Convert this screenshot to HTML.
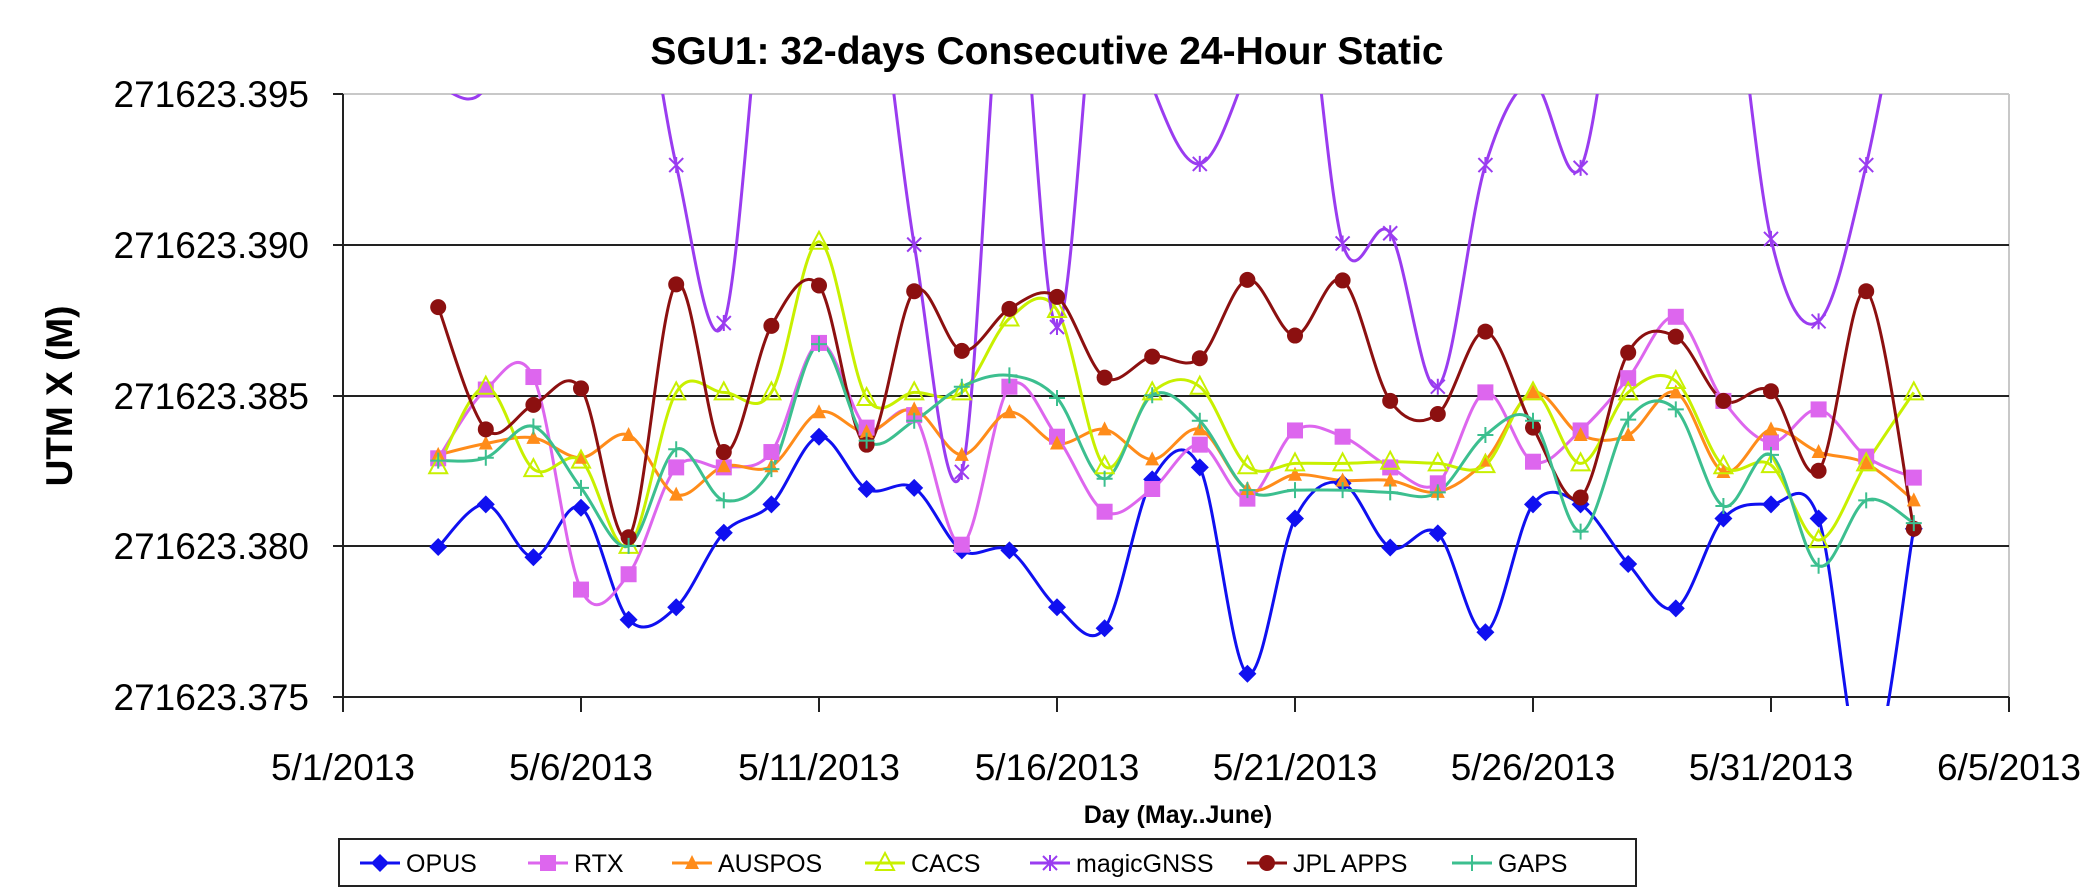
<!DOCTYPE html>
<html><head><meta charset="utf-8">
<style>
html,body{margin:0;padding:0;background:#fff;}
body{width:2096px;height:889px;overflow:hidden;font-family:"Liberation Sans",Arial,sans-serif;}
</style></head>
<body>
<svg id="c" width="2096" height="889" xmlns="http://www.w3.org/2000/svg" font-family="Liberation Sans, Arial, sans-serif">
<defs><clipPath id="pc"><rect x="343" y="94" width="1666" height="612"/></clipPath></defs>
<text x="1047" y="64" text-anchor="middle" font-size="39" font-weight="bold">SGU1: 32-days Consecutive 24-Hour Static</text>
<line x1="343" y1="94" x2="2009" y2="94" stroke="#c8c8c8" stroke-width="2"/>
<line x1="2009" y1="94" x2="2009" y2="697" stroke="#c8c8c8" stroke-width="2"/>
<line x1="343" y1="245" x2="2009" y2="245" stroke="#222" stroke-width="2"/>
<line x1="343" y1="396" x2="2009" y2="396" stroke="#222" stroke-width="2"/>
<line x1="343" y1="546" x2="2009" y2="546" stroke="#222" stroke-width="2"/>
<line x1="343" y1="697" x2="2009" y2="697" stroke="#222" stroke-width="2"/>
<line x1="343" y1="94" x2="343" y2="710" stroke="#222" stroke-width="2"/>
<g stroke="#222" stroke-width="2">
<line x1="333" y1="94" x2="343" y2="94"/><line x1="333" y1="245" x2="343" y2="245"/>
<line x1="333" y1="396" x2="343" y2="396"/><line x1="333" y1="546" x2="343" y2="546"/>
<line x1="333" y1="697" x2="343" y2="697"/>
</g>
<g font-size="37" text-anchor="end">
<text x="309" y="107">271623.395</text><text x="309" y="258">271623.390</text>
<text x="309" y="409">271623.385</text><text x="309" y="559">271623.380</text>
<text x="309" y="710">271623.375</text>
</g>
<text transform="translate(72,396) rotate(-90)" text-anchor="middle" font-size="37" font-weight="bold">UTM X (M)</text>
<g id="xt" font-size="37" text-anchor="middle"></g>
<text x="1178" y="823" text-anchor="middle" font-size="25" font-weight="bold">Day (May..June)</text>
<rect x="339" y="839" width="1297" height="47" fill="#fff" stroke="#222" stroke-width="2"/>
<g id="series" clip-path="url(#pc)"></g>
<g id="marks"></g>
<g id="leg" font-size="25"></g>
</svg>
<script>
var NS="http://www.w3.org/2000/svg";
function el(t,a,p){var e=document.createElementNS(NS,t);for(var k in a)e.setAttribute(k,a[k]);(p||document.getElementById("c")).appendChild(e);return e;}
var xl=["5/1/2013","5/6/2013","5/11/2013","5/16/2013","5/21/2013","5/26/2013","5/31/2013","6/5/2013"];
var xt=document.getElementById("xt");
for(var i=0;i<8;i++){var x=343+i*5*47.6;el("line",{x1:x,y1:697,x2:x,y2:712,stroke:"#222","stroke-width":2});var t=el("text",{x:x,y:780},xt);t.textContent=xl[i];}
function X(i){return 343+(2+i)*47.6;}
function Y(yd){return 94+(yd-165)*(603/1061);}
var U=-150;
var S=[
{n:"OPUS",c:"#1010f0",m:"d",y:[962,887,980,893,1090,1068,937,887,768,860,858,968,968,1068,1105,843,822,1185,912,850,963,938,1112,887,887,992,1070,912,887,912,1380,930]},
{n:"RTX",c:"#dd66ee",m:"s",y:[806,685,663,1037,1010,822,822,795,603,752,730,958,680,768,900,860,782,877,757,768,822,850,690,812,757,665,557,705,778,720,803,840]},
{n:"AUSPOS",c:"#ff8c1a",m:"t",y:[800,780,770,805,765,870,820,820,725,760,720,800,725,780,755,808,755,860,835,845,845,865,810,690,765,765,690,830,755,795,815,880]},
{n:"CACS",c:"#c8f000",m:"o",y:[820,680,825,810,960,690,690,690,425,700,690,690,560,545,820,690,680,820,815,815,812,815,818,690,815,690,670,820,818,950,815,690]},
{n:"magicGNSS",c:"#9a3cf0",m:"x",y:[150,152,U,U,U,290,568,U,U,U,430,830,U,575,U,150,288,120,U,428,410,680,290,145,295,U,U,U,420,565,290,U]},
{n:"JPL APPS",c:"#8c1010",m:"c",y:[540,755,712,683,945,500,795,573,502,782,512,617,543,522,664,627,630,492,590,493,705,728,583,752,875,620,592,705,688,828,512,930]},
{n:"GAPS",c:"#3cbf8f",m:"p",y:[810,805,750,858,960,790,880,825,605,775,740,680,660,700,842,695,740,862,862,862,866,866,765,740,935,738,720,890,800,995,880,920]}
];
var sg=document.getElementById("series"),mg=document.getElementById("marks"),lg=document.getElementById("leg");
function marker(type,x,y,c,g){
 if(type=="d")el("polygon",{points:(x)+","+(y-9)+" "+(x+9)+","+y+" "+x+","+(y+9)+" "+(x-9)+","+y,fill:c},g);
 else if(type=="s")el("rect",{x:x-8,y:y-8,width:16,height:16,fill:c},g);
 else if(type=="t")el("polygon",{points:x+","+(y-8)+" "+(x+7)+","+(y+6)+" "+(x-7)+","+(y+6),fill:c},g);
 else if(type=="o")el("polygon",{points:x+","+(y-10)+" "+(x+9)+","+(y+7)+" "+(x-9)+","+(y+7),fill:"none",stroke:c,"stroke-width":2},g);
 else if(type=="x"){el("path",{d:"M"+(x-7)+" "+(y-7)+"L"+(x+7)+" "+(y+7)+"M"+(x+7)+" "+(y-7)+"L"+(x-7)+" "+(y+7)+"M"+x+" "+(y-8)+"L"+x+" "+(y+8),stroke:c,"stroke-width":2},g);}
 else if(type=="c")el("circle",{cx:x,cy:y,r:8,fill:c},g);
 else if(type=="p")el("path",{d:"M"+(x-8)+" "+y+"L"+(x+8)+" "+y+"M"+x+" "+(y-8)+"L"+x+" "+(y+8),stroke:c,"stroke-width":2},g);
}
S.forEach(function(s){
 var P=s.y.map(function(v,i){return [X(i),Y(v)];});
 var d="M"+P[0][0]+" "+P[0][1];
 for(var i=0;i<P.length-1;i++){
  var p0=P[i>0?i-1:i],p1=P[i],p2=P[i+1],p3=P[i+2<P.length?i+2:i+1],t=0.5/3;
  var c1=[p1[0]+(p2[0]-p0[0])*t,p1[1]+(p2[1]-p0[1])*t],c2=[p2[0]-(p3[0]-p1[0])*t,p2[1]-(p3[1]-p1[1])*t];
  d+="C"+c1[0]+" "+c1[1]+" "+c2[0]+" "+c2[1]+" "+p2[0]+" "+p2[1];
 }
 el("path",{d:d,fill:"none",stroke:s.c,"stroke-width":3},sg);
 P.forEach(function(p){if(p[1]>=92&&p[1]<=700)marker(s.m,p[0],p[1],s.c,mg);});
});
var lx=[360,528,672,865,1030,1247,1452];
S.forEach(function(s,i){var x=lx[i],y=863;el("line",{x1:x,y1:y,x2:x+40,y2:y,stroke:s.c,"stroke-width":3},lg);marker(s.m,x+20,y,s.c,lg);var t=el("text",{x:x+46,y:y+9},lg);t.textContent=s.n;});
</script>
</body></html>
